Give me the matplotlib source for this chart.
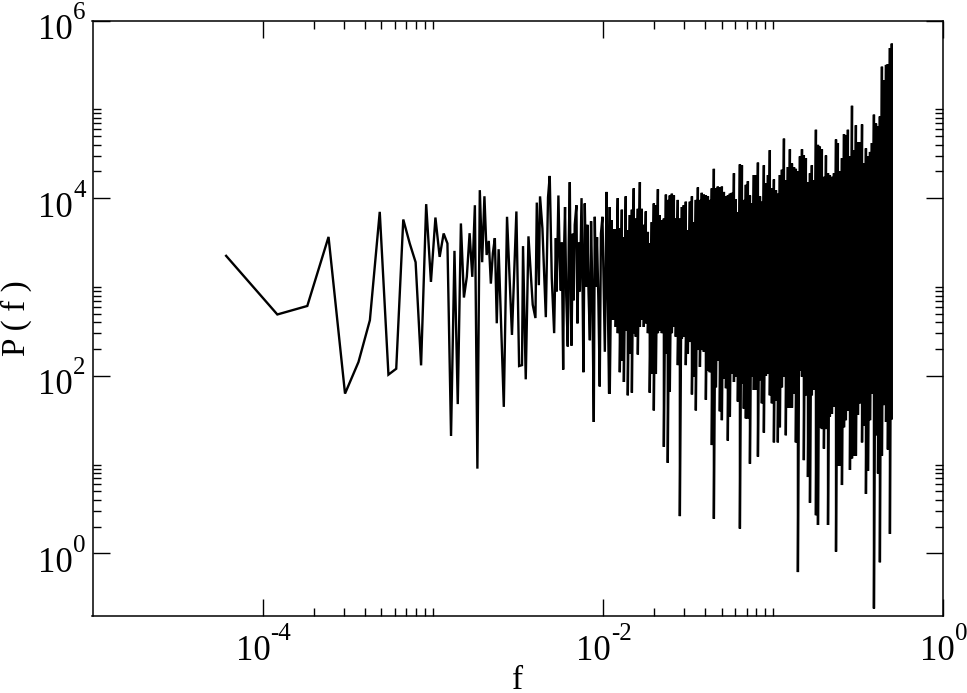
import numpy as np
import matplotlib
matplotlib.use('Agg')
import matplotlib.pyplot as plt
from matplotlib.ticker import NullFormatter

# first bins of the spectrum, one by one (sample length 16384)
n_samples = 16384
low_bins = [1, 2, 3, 4, 5, 6, 7, 8, 9, 10, 11, 12, 13, 14, 15, 16, 17, 18, 19, 20,
            21, 22, 23, 24, 25, 26, 27, 28, 29, 30, 31, 32, 33, 34, 35, 36, 37, 38, 39, 40]
low_power = [2240, 490, 611, 3660, 63, 143, 422, 7010, 103, 120, 5750, 3100, 1900, 131, 8560,
             1140, 6050, 2180, 4000, 3090, 21, 2550, 48, 5190, 760, 1300, 4030, 1300, 8320, 9,
             12300, 1900, 10500, 2290, 3300, 1090, 2400, 3550, 390, 2660]

mid_log_f = [-2.582, -2.563, -2.534, -2.508, -2.492, -2.475, -2.469, -2.453, -2.437, -2.412,
             -2.396, -2.388, -2.376, -2.369, -2.355, -2.335, -2.322, -2.312, -2.300, -2.286,
             -2.276, -2.271, -2.261, -2.253, -2.247, -2.241, -2.233, -2.228, -2.222, -2.215,
             -2.206, -2.200, -2.194, -2.188, -2.184, -2.176, -2.171, -2.165, -2.155, -2.149,
             -2.141, -2.135, -2.125, -2.119, -2.114, -2.106, -2.097, -2.091, -2.084, -2.076,
             -2.069, -2.062, -2.053, -2.047, -2.041, -2.034, -2.026, -2.018, -2.011, -2.002,
             -1.994, -1.988, -1.978, -1.971, -1.963]
mid_log_p = [1.65, 3.79, 2.46, 3.85, 2.11, 2.12, 3.46, 1.96, 3.57, 2.80,
             2.65, 3.95, 3.02, 4.02, 3.66, 2.66, 4.01, 4.25, 3.10, 2.48,
             3.55, 2.95, 4.03, 3.30, 2.96, 3.50, 2.07, 3.40, 3.90, 2.90,
             2.33, 3.50, 4.18, 2.80, 2.34, 3.60, 2.85, 3.70, 3.92, 2.59,
             3.50, 2.95, 4.00, 3.00, 2.04, 3.94, 3.00, 3.70, 2.95, 2.40,
             3.74, 3.00, 1.48, 3.79, 3.00, 3.56, 2.85, 1.88, 3.60, 3.79,
             2.95, 2.27, 4.07, 2.90, 1.80]

# upper and lower outline of the solid block
block_log_f = [-1.959, -1.947, -1.935, -1.924, -1.912, -1.900, -1.888, -1.876, -1.865, -1.853,
               -1.841, -1.829, -1.818, -1.806, -1.794, -1.782, -1.771, -1.759, -1.747, -1.735,
               -1.724, -1.712, -1.700, -1.688, -1.676, -1.665, -1.653, -1.641, -1.629, -1.618,
               -1.606, -1.594, -1.582, -1.571, -1.559, -1.547, -1.535, -1.524, -1.512, -1.500,
               -1.488, -1.476, -1.465, -1.453, -1.441, -1.429, -1.418, -1.406, -1.394, -1.382,
               -1.371, -1.359, -1.347, -1.335, -1.324, -1.312, -1.300, -1.288, -1.276, -1.265,
               -1.253, -1.241, -1.229, -1.218, -1.206, -1.194, -1.182, -1.171, -1.159, -1.147,
               -1.135, -1.124, -1.112, -1.100, -1.088, -1.076, -1.065, -1.053, -1.041, -1.029,
               -1.018, -1.006, -0.994, -0.982, -0.971, -0.959, -0.947, -0.935, -0.924, -0.912,
               -0.900, -0.888, -0.876, -0.865, -0.853, -0.841, -0.829, -0.818, -0.806, -0.794,
               -0.782, -0.771, -0.759, -0.747, -0.735, -0.724, -0.712, -0.700, -0.688, -0.676,
               -0.665, -0.653, -0.641, -0.629, -0.618, -0.606, -0.594, -0.582, -0.571, -0.559,
               -0.547, -0.535, -0.524, -0.512, -0.500, -0.488, -0.476, -0.465, -0.453, -0.441,
               -0.429, -0.418, -0.406, -0.394, -0.382, -0.371, -0.359, -0.347, -0.335, -0.324,
               -0.312, -0.301]
block_top = [3.90, 3.75, 3.65, 3.65, 4.00, 3.66, 3.87, 3.56, 4.02, 3.64,
             3.81, 3.87, 4.11, 3.77, 3.88, 4.18, 3.88, 3.70, 3.85, 3.62,
             3.49, 3.73, 3.94, 3.92, 4.10, 3.81, 3.75, 3.77, 4.04, 3.98,
             4.03, 4.05, 4.03, 3.77, 3.98, 3.77, 3.90, 3.92, 3.96, 3.64,
             3.96, 4.02, 3.73, 3.98, 4.12, 3.98, 4.06, 4.04, 4.03, 4.02,
             3.98, 4.11, 4.33, 4.11, 4.13, 4.12, 4.13, 4.07, 4.02, 4.03,
             4.05, 4.06, 4.28, 3.99, 3.84, 4.38, 4.37, 3.98, 4.15, 4.19,
             4.03, 3.94, 4.26, 4.26, 4.40, 4.02, 3.96, 4.37, 4.17, 4.26,
             4.54, 4.11, 4.21, 4.09, 4.05, 4.26, 4.32, 4.67, 4.20, 4.35,
             4.55, 4.39, 4.35, 4.33, 4.30, 4.47, 4.55, 4.48, 4.45, 4.18,
             4.28, 4.37, 4.20, 4.77, 4.60, 4.58, 4.55, 4.24, 4.48, 4.28,
             4.26, 4.24, 4.28, 4.66, 4.62, 4.30, 4.45, 4.72, 4.71, 4.77,
             4.47, 5.04, 4.54, 4.82, 4.63, 4.63, 4.83, 4.39, 4.56, 4.47,
             4.52, 4.62, 4.94, 4.84, 4.81, 4.92, 5.48, 5.33, 5.50, 5.51,
             5.69, 5.74]
block_bottom = [1.80, 2.63, 2.63, 2.55, 2.48, 2.04, 2.17, 1.93, 2.51, 1.78,
                2.25, 1.81, 2.48, 2.44, 2.24, 2.55, 2.63, 2.55, 2.59, 2.48,
                1.81, 2.02, 1.61, 2.02, 2.48, 2.51, 2.48, 1.20, 2.25, 1.02,
                1.82, 2.48, 2.55, 2.44, 2.12, 0.42, 2.42, 2.44, 2.12, 2.25,
                2.38, 1.79, 1.99, 1.61, 2.29, 2.10, 2.29, 2.27, 1.73, 2.06,
                2.04, 1.22, 0.39, 1.87, 2.17, 1.60, 1.50, 1.97, 1.86, 1.27,
                1.54, 2.02, 1.93, 1.99, 1.71, 0.28, 1.91, 1.63, 1.52, 1.52,
                1.01, 1.99, 1.84, 1.84, 1.09, 1.95, 1.69, 1.36, 2.00, 2.02,
                1.78, 1.69, 1.25, 1.72, 1.25, 1.42, 1.87, 1.99, 1.33, 1.64,
                1.64, 1.64, 1.80, 1.25, -0.21, 2.06, 1.99, 1.05, 1.78, 0.86,
                0.57, 1.78, 1.84, 0.43, 0.32, 1.42, 1.40, 1.18, 1.40, 0.32,
                1.54, 1.57, 1.65, 0.02, 0.99, 0.99, 0.77, 1.42, 1.50, 1.61,
                0.94, 1.07, 1.10, 1.10, 1.56, 1.69, 1.25, 1.44, 0.67, 0.93,
                1.50, 1.80, -0.62, 1.33, 0.90, -0.10, 1.10, 1.67, 1.48, 1.17,
                0.22, 1.52]

x_major = [1e-4, 1e-2, 1e0]
x_exponents = ['-4', '-2', '0']
x_minor = [2e-4, 3e-4, 4e-4, 5e-4, 6e-4, 7e-4, 8e-4, 9e-4, 1e-3,
           2e-2, 3e-2, 4e-2, 5e-2, 6e-2, 7e-2, 8e-2, 9e-2, 1e-1]
y_major = [1e0, 1e2, 1e4, 1e6]
y_exponents = ['0', '2', '4', '6']
y_minor = [2e0, 3e0, 4e0, 5e0, 6e0, 7e0, 8e0, 9e0, 1e1,
           2e2, 3e2, 4e2, 5e2, 6e2, 7e2, 8e2, 9e2, 1e3,
           2e4, 3e4, 4e4, 5e4, 6e4, 7e4, 8e4, 9e4, 1e5]

plt.rcParams['font.family'] = ['Liberation Serif', 'DejaVu Serif']


def power_label(ax, trans, pos, exponent, dx, dy):
    # ten and its exponent as two texts, mathtext puts the exponent too low
    ax.annotate('10', xy=pos, xycoords=trans, xytext=(dx, dy), textcoords='offset pixels',
                ha='right', va='baseline', fontsize=25, annotation_clip=False)
    ax.annotate(exponent, xy=pos, xycoords=trans, xytext=(dx, dy + 20), textcoords='offset pixels',
                ha='left', va='baseline', fontsize=18, annotation_clip=False)


def main():
    # walk low bins, then the read peaks, then up and down the block outline
    freq = list(np.array(low_bins) / n_samples) + list(10.0 ** np.array(mid_log_f))
    power = list(low_power) + list(10.0 ** np.array(mid_log_p))
    for lf, top, bot in zip(block_log_f, block_top, block_bottom):
        freq += [10.0 ** lf, 10.0 ** lf]
        power += [10.0 ** top, 10.0 ** bot]

    fig = plt.figure(figsize=(9.67, 6.93), dpi=100)
    ax = fig.add_axes([92.5 / 967, 1 - 615.5 / 693, 850.5 / 967, 595 / 693])
    ax.plot(freq, power, color='black', linewidth=1.7, solid_joinstyle='miter')

    ax.set_xscale('log')
    ax.set_yscale('log')
    ax.set_xlim(1e-5, 1e0)
    ax.set_ylim(0.2, 1e6)

    ax.set_xticks(x_major)
    ax.set_xticks(x_minor, minor=True)
    ax.set_yticks(y_major)
    ax.set_yticks(y_minor, minor=True)
    ax.xaxis.set_major_formatter(NullFormatter())
    ax.yaxis.set_major_formatter(NullFormatter())
    ax.xaxis.set_minor_formatter(NullFormatter())
    ax.yaxis.set_minor_formatter(NullFormatter())
    ax.tick_params(which='major', direction='in', length=12, width=1, top=True, right=True)
    ax.tick_params(which='minor', direction='in', length=6, width=1, top=True, right=True)
    for spine in ax.spines.values():
        spine.set_linewidth(1.1)

    for tick, exponent in zip(x_major, x_exponents):
        shift = 12 if exponent == '0' else 8
        power_label(ax, ax.get_xaxis_transform(), (tick, 0), exponent, shift, -44.5)
    for tick, exponent in zip(y_major, y_exponents):
        power_label(ax, ax.get_yaxis_transform(), (0, tick), exponent, -19.5, -18.5)

    ax.set_xlabel('f', fontsize=24, va='baseline')
    ax.xaxis.set_label_coords(0.5, -0.124)
    ax.set_ylabel('P ( f )', fontsize=24)
    ax.yaxis.set_label_coords(-0.071, 0.5)

    fig.savefig('out.png', dpi=100)


main()
